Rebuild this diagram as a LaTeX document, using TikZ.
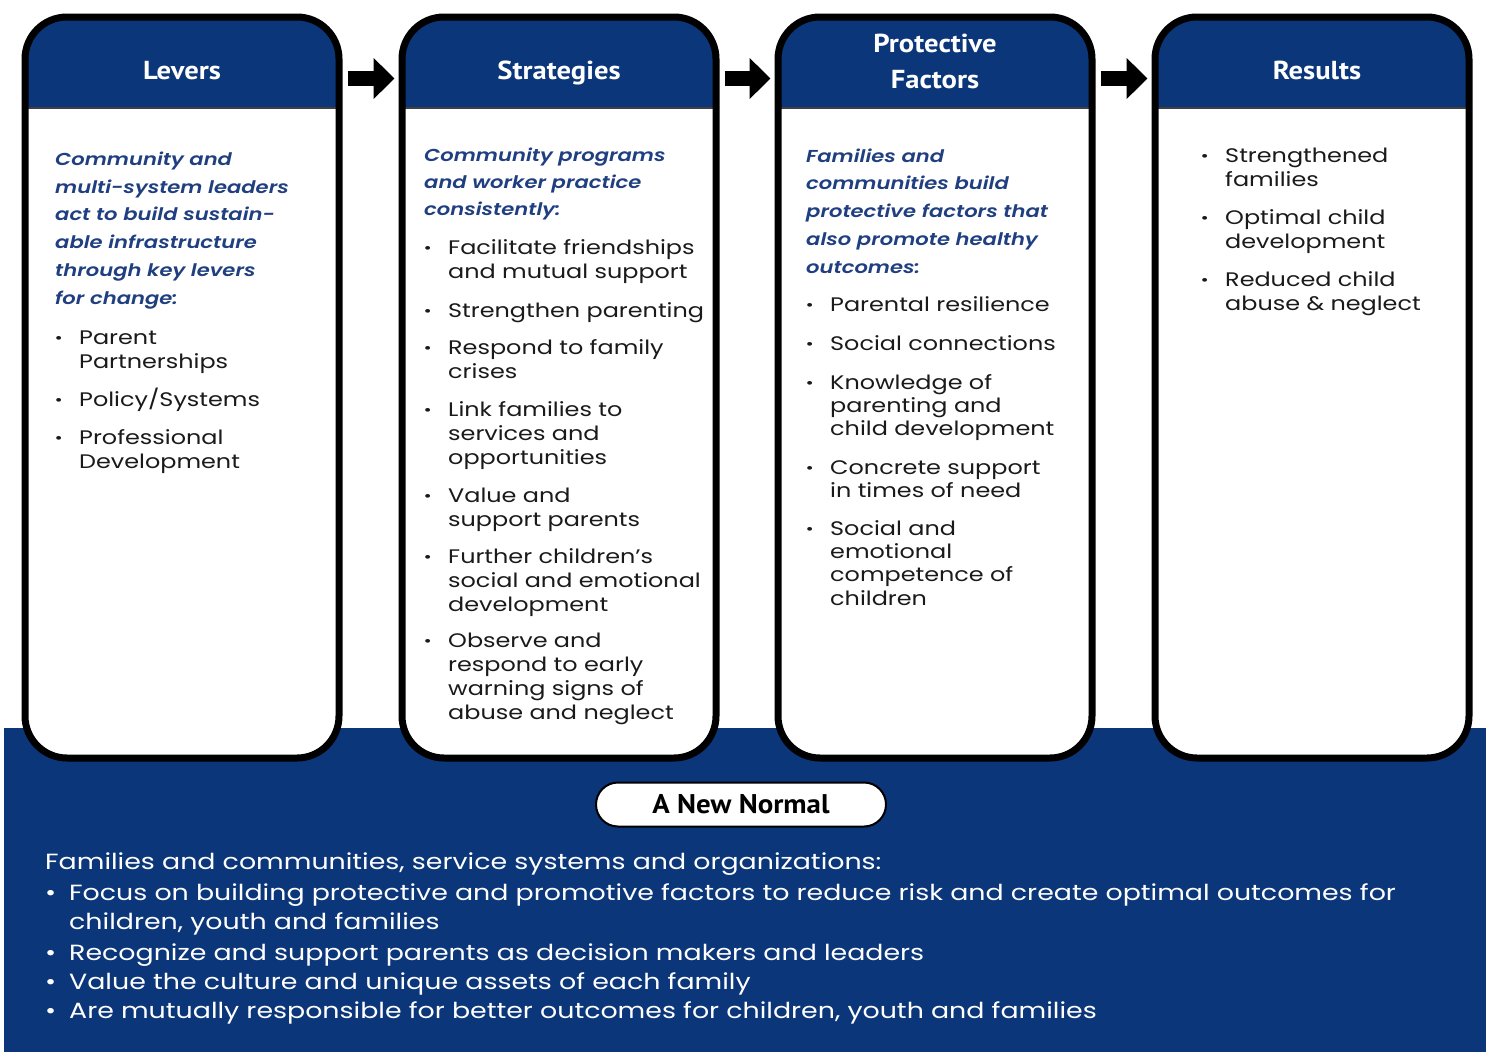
\documentclass[tikz,border=0pt]{standalone}
\usepackage{fontspec}
\setmainfont{Poppins}[FakeStretch=1.22]
\newfontfamily\introfont{Poppins SemiBold Italic}[FakeStretch=1.22]
\newfontfamily\hdrfont{PT Sans}[FakeStretch=1.1]
\newfontfamily\pillfont{PT Sans}[FakeStretch=1.07]
\usetikzlibrary{arrows.meta}
\definecolor{navy}{HTML}{0B3679}
\definecolor{introblue}{HTML}{1F3F80}
\definecolor{bodyblack}{HTML}{1A1A1A}
\newcommand{\bul}{\llap{{\bfseries ·}\hspace{17pt}}}
\newcommand{\bbul}{\llap{•\hspace{13pt}}}
\begin{document}
\begin{tikzpicture}[x=1pt,y=-1pt,
  colbox/.style={draw=black, line width=7pt, fill=white, rounded corners=42pt,
    minimum width=314pt, minimum height=741pt, inner sep=0pt,
    path picture={
      \fill[navy, sharp corners] (path picture bounding box.north west) rectangle ([yshift=-91pt]path picture bounding box.north east);
      \draw[black!75, line width=1.2pt, sharp corners] ([yshift=-91pt]path picture bounding box.north west) -- ([yshift=-91pt]path picture bounding box.north east);
    }},
  hdr/.style={anchor=base, text=white, font=\hdrfont\bfseries\fontsize{26}{36}\selectfont, align=center},
  intro/.style={anchor=base west, inner sep=0pt, align=left, text=introblue,
    font=\introfont\fontsize{17.3}{27.7}\selectfont},
  item/.style={anchor=base west, inner sep=0pt, align=left, text=bodyblack,
    font=\fontsize{19.6}{23.7}\selectfont},
  btext/.style={anchor=base west, inner sep=0pt, align=left, text=white,
    font=\fontsize{22}{29}\selectfont},
  blockarrow/.style={line width=15pt, draw=black, -{Triangle[length=21pt, width=40pt]}},
  pill/.style={draw=black, line width=2pt, fill=white, rounded corners=22pt,
    minimum width=290pt, minimum height=44pt, inner sep=0pt,
    font=\pillfont\bfseries\fontsize{27}{30}\selectfont, text=black}
]
\useasboundingbox (0,0) rectangle (1486,1052);
\fill[navy] (4,728) rectangle (1486,1052);

% column boxes
\node[colbox] (levers) at (182,387.5) {};
\node[colbox] (strategies) at (559,387.5) {};
\node[colbox] (protective) at (935,387.5) {};
\node[colbox] (results) at (1312,387.5) {};

% headers (positions are baselines of the last lines)
\node[hdr] (hlevers) at (182,79) {Levers};
\node[hdr] (hstrategies) at (559,79) {Strategies};
\node[hdr] (hprotective) at (935,88) {Protective\\Factors};
\node[hdr] (hresults) at (1317,79) {Results};

% arrows
\draw[blockarrow] ([xshift=5pt,yshift=-65pt]levers.north east) -- ([xshift=-4pt,yshift=-65pt]strategies.north west);
\draw[blockarrow] ([xshift=5pt,yshift=-65pt]strategies.north east) -- ([xshift=-4pt,yshift=-65pt]protective.north west);
\draw[blockarrow] ([xshift=5pt,yshift=-65pt]protective.north east) -- ([xshift=-4pt,yshift=-65pt]results.north west);

% (node positions are the baselines of the last lines)
% Levers column
\node[intro] (ilevers) at (55,304) {Community and\\multi-system leaders\\act to build sustain-\\able infrastructure\\through key levers\\for change:};
\node[item] (l1) at (79,368) {\bul Parent\\Partnerships};
\node[item] (l2) at (79,406) {\bul Policy/Systems};
\node[item] (l3) at (79,468) {\bul Professional\\Development};

% Strategies column
\node[intro, font=\introfont\fontsize{17.3}{27}\selectfont] (istrat) at (424,215) {Community programs\\and worker practice\\consistently:};
\node[item] (s1) at (448,278) {\bul Facilitate friendships\\and mutual support};
\node[item] (s2) at (448,317) {\bul Strengthen parenting};
\node[item] (s3) at (448,378) {\bul Respond to family\\crises};
\node[item] (s4) at (448,464) {\bul Link families to\\services and\\opportunities};
\node[item] (s5) at (448,526) {\bul Value and\\support parents};
\node[item] (s6) at (448,611) {\bul Further children’s\\social and emotional\\development};
\node[item] (s7) at (448,719) {\bul Observe and\\respond to early\\warning signs of\\abuse and neglect};

% Protective column
\node[intro] (iprot) at (806,273) {Families and\\communities build\\protective factors that\\also promote healthy\\outcomes:};
\node[item] (p1) at (830,311) {\bul Parental resilience};
\node[item] (p2) at (830,350) {\bul Social connections};
\node[item, font=\fontsize{19.6}{23}\selectfont] (p3) at (830,435) {\bul Knowledge of\\parenting and\\child development};
\node[item, font=\fontsize{19.6}{23}\selectfont] (p4) at (830,497) {\bul Concrete support\\in times of need};
\node[item, font=\fontsize{19.6}{23.3}\selectfont] (p5) at (830,605) {\bul Social and\\emotional\\competence of\\children};

% Results column
\node[item] (r1) at (1225,186) {\bul Strengthened\\families};
\node[item] (r2) at (1225,248) {\bul Optimal child\\development};
\node[item] (r3) at (1225,310) {\bul Reduced child\\abuse \& neglect};

% A New Normal
\node[pill] (newnormal) at (741,804.5) {A New Normal};

% bottom text
\node[btext] (bhead) at (45,869) {Families and communities, service systems and organizations:};
\node[btext] (b1) at (69,929) {\bbul Focus on building protective and promotive factors to reduce risk and create optimal outcomes for\\children, youth and families};
\node[btext] (b2) at (69,960) {\bbul Recognize and support parents as decision makers and leaders};
\node[btext] (b3) at (69,989) {\bbul Value the culture and unique assets of each family};
\node[btext] (b4) at (69,1018) {\bbul Are mutually responsible for better outcomes for children, youth and families};
\end{tikzpicture}
\end{document}
